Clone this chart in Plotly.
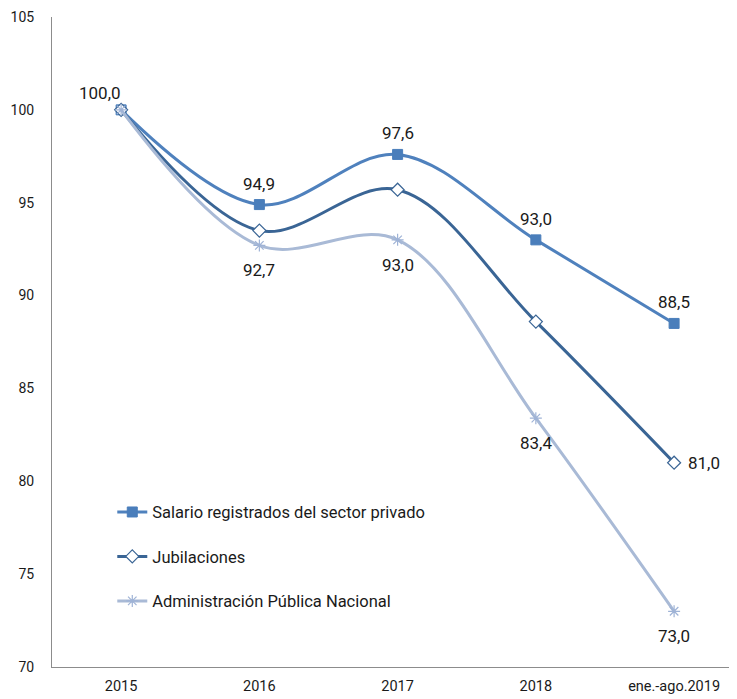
import plotly.graph_objects as go

categories = ["2015", "2016", "2017", "2018", "ene.-ago.2019"]
salario = [100.0, 94.9, 97.6, 93.0, 88.5]
jubilaciones = [100.0, 93.5, 95.7, 88.6, 81.0]
apn = [100.0, 92.7, 93.0, 83.4, 73.0]
y_ticks = [70, 75, 80, 85, 90, 95, 100, 105]

names = ["Salario registrados del sector privado", "Jubilaciones", "Administración Pública Nacional"]

FONT = "Roboto, 'Noto Sans', sans-serif"

def fmt(v):
    return f"{v:.1f}".replace(".", ",")

fig = go.Figure()
fig.add_trace(go.Scatter(
    x=categories, y=salario, name=names[0], legendgroup="a",
    mode="lines+markers",
    line=dict(color="#4F81BD", width=3, shape="spline", smoothing=1),
    marker=dict(symbol="square", size=10, color="#4A7EBB", line=dict(color="#4A7EBB", width=1)),
))
fig.add_trace(go.Scatter(
    x=categories, y=jubilaciones, name=names[1], legendgroup="b",
    mode="lines+markers",
    line=dict(color="#3A6595", width=3, shape="spline", smoothing=1),
    marker=dict(symbol="diamond", size=10, color="white", line=dict(color="#3A6595", width=1.2)),
))
fig.add_trace(go.Scatter(
    x=categories, y=apn, name=names[2], legendgroup="c",
    mode="lines+markers",
    line=dict(color="#A9BAD6", width=3, shape="spline", smoothing=1),
    marker=dict(symbol="asterisk-open", size=10, color="#9FB3D6", line=dict(color="#9FB3D6", width=1.2)),
))

annotations = []
# Salario labels (above)
for i, v in enumerate(salario):
    if i == 0:
        annotations.append(dict(x=i, y=v, text=fmt(v), xshift=-21, yshift=17))
    else:
        annotations.append(dict(x=i, y=v, text=fmt(v), yshift=21))
# Jubilaciones last label (right)
annotations.append(dict(x=4, y=jubilaciones[4], text=fmt(jubilaciones[4]), xshift=30, yshift=0))
# APN labels (below)
for i in [1, 2, 3, 4]:
    annotations.append(dict(x=i, y=apn[i], text=fmt(apn[i]), yshift=-25))
for a in annotations:
    a.update(showarrow=False, xref="x", yref="y", font=dict(size=17, color="#1a1a1a", family=FONT))

fig.update_layout(
    width=729, height=691,
    margin=dict(l=44, r=0, t=9, b=32),
    paper_bgcolor="white", plot_bgcolor="white",
    font=dict(family=FONT, color="#1a1a1a"),
    showlegend=True,
    legend=dict(
        x=0.088, y=0.265, xanchor="left", yanchor="top",
        font=dict(size=16.5, color="#1a1a1a", family=FONT),
        bgcolor="rgba(0,0,0,0)", tracegroupgap=20, itemwidth=30,
    ),
    annotations=annotations,
)
fig.update_xaxes(
    type="category", range=[-0.5, 4.455],
    showgrid=False, showline=True, linecolor="#8C8C8C", linewidth=1,
    ticks="", tickfont=dict(size=14.5, color="#1a1a1a"), ticklabelstandoff=6,
    zeroline=False,
)
fig.update_yaxes(
    range=[70, 105], tickvals=y_ticks,
    showgrid=False, showline=True, linecolor="#8C8C8C", linewidth=1,
    ticks="", tickfont=dict(size=14, color="#1a1a1a"), ticklabelstandoff=14,
    zeroline=False,
)

fig.write_html("out.html")
